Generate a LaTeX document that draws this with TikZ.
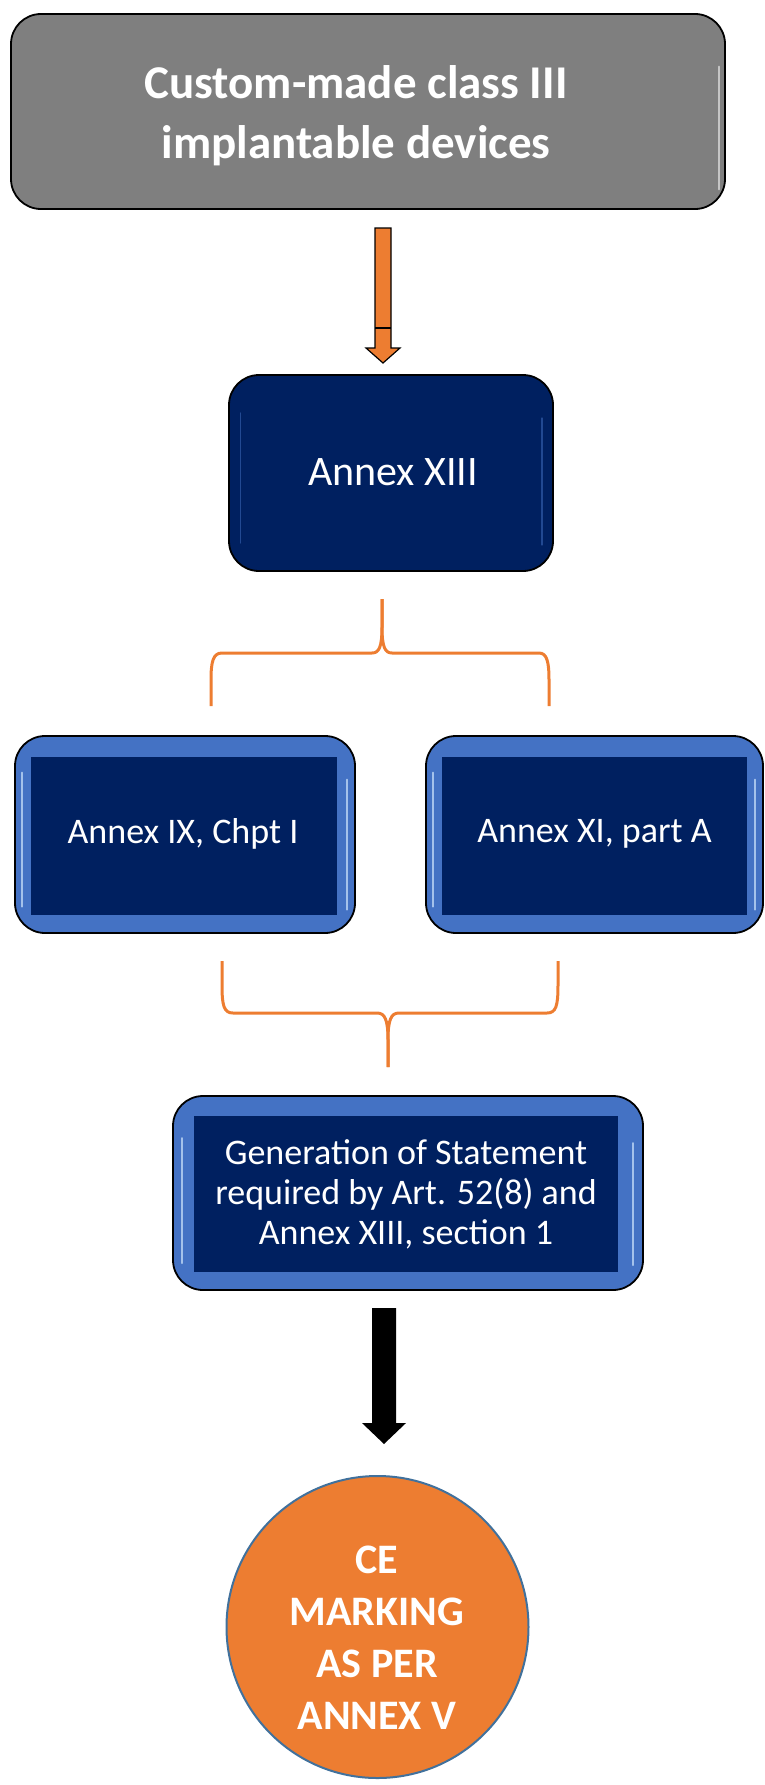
\documentclass[tikz,border=0pt]{standalone}
\usepackage{fontspec}
\setmainfont{Carlito}
\usetikzlibrary{calc}
\definecolor{navy}{RGB}{0,32,96}
\definecolor{boxgray}{RGB}{127,127,127}
\definecolor{bandblue}{RGB}{68,114,196}
\definecolor{accent}{RGB}{237,125,49}
\definecolor{rim}{RGB}{65,113,156}
\definecolor{gleam}{RGB}{190,215,245}
\begin{document}
\begin{tikzpicture}[x=1pt,y=-1pt,
  greybox/.style={draw=black,line width=1.8pt,fill=boxgray,rounded corners=30pt,inner sep=0pt},
  navybox/.style={draw=black,line width=1.8pt,fill=navy,rounded corners=30pt,inner sep=0pt},
  bandbox/.style={draw=black,line width=1.8pt,fill=bandblue,rounded corners=30pt,inner sep=0pt},
  panel/.style={fill=navy,draw=none,inner sep=0pt},
  label/.style={text=white,align=center,inner sep=0pt},
  brace/.style={draw=accent,line width=3pt},
  streak/.style={draw=gleam,line width=2pt,line cap=round,opacity=0.8},
  faint/.style={draw=white,line width=1.8pt,line cap=round,opacity=0.55}
]
\useasboundingbox (0,0) rectangle (764,1785);

% top box
\node[greybox,minimum width=714,minimum height=195] (top) at (368,111.5) {};
\node[label,font=\fontsize{47}{60}\selectfont\bfseries] (toptext) at (356,116)
  {Custom-made class III\\implantable devices};
\draw[faint] ($(top.east)+(-7,-45)$) -- ($(top.east)+(-7,78)$);

% Annex XIII
\node[navybox,minimum width=324,minimum height=196] (a13) at (391,473) {};
\node[label,font=\fontsize{42}{50}\selectfont] (a13text) at (393,472) {Annex XIII};
\draw[draw=bandblue,line width=1.2pt,line cap=round,opacity=0.5] ($(a13.west)+(12,-60)$) -- ($(a13.west)+(12,70)$);
\draw[draw=bandblue,line width=1.2pt,line cap=round,opacity=0.5] ($(a13.east)+(-12,-55)$) -- ($(a13.east)+(-12,72)$);

% orange block arrow
\coordinate (oatop) at (383,228);
\coordinate (oatip) at (383,363);
\draw[fill=accent,draw=black,line width=1.2pt]
  ($(oatop)+(-8,0)$) -- ($(oatop)+(8,0)$) -- ($(oatip)+(8,-15)$) -- ($(oatip)+(17,-15)$)
  -- (oatip) -- ($(oatip)+(-17,-15)$) -- ($(oatip)+(-8,-15)$) -- cycle;
\draw[black,line width=1.2pt] ($(oatip)+(-8,-35)$) -- ($(oatip)+(8,-35)$);

% upper brace
\coordinate (ub-c) at (382,599);
\coordinate (ub-l) at (211,706);
\coordinate (ub-r) at (549,706);
\draw[brace] (ub-c) -- ($(ub-c)+(0,28)$) .. controls ($(ub-c)+(0,48)$) and ($(ub-c)+(-3,54)$) .. ($(ub-c)+(-10,54)$)
  -- (222,653) .. controls (213,653) and (211,662) .. (211,680) -- (ub-l);
\draw[brace] (ub-c) -- ($(ub-c)+(0,28)$) .. controls ($(ub-c)+(0,48)$) and ($(ub-c)+(3,54)$) .. ($(ub-c)+(10,54)$)
  -- (539,653) .. controls (547,653) and (549,662) .. (549,680) -- (ub-r);

% Annex IX and Annex XI
\node[bandbox,minimum width=340,minimum height=197] (ix) at (185,834.5) {};
\node[panel,minimum width=306,minimum height=158] (ixin) at (184,836) {};
\node[label,font=\fontsize{36}{44}\selectfont] (ixtext) at (183,834) {Annex IX, Chpt I};
\draw[streak] ($(ix.west)+(8,-62)$) -- ($(ix.west)+(8,72)$);
\draw[streak] ($(ix.east)+(-9,-55)$) -- ($(ix.east)+(-9,75)$);

\node[bandbox,minimum width=337,minimum height=197] (xi) at (594.5,834.5) {};
\node[panel,minimum width=305,minimum height=158] (xiin) at (594.5,836) {};
\node[label,font=\fontsize{36}{44}\selectfont] (xitext) at (594.5,834) {Annex XI, part A};
\draw[streak] ($(xi.west)+(8,-62)$) -- ($(xi.west)+(8,72)$);
\draw[streak] ($(xi.east)+(-9,-55)$) -- ($(xi.east)+(-9,75)$);

% lower brace
\coordinate (lb-l) at (222,961);
\coordinate (lb-r) at (558,961);
\coordinate (lb-c) at (388,1067);
\draw[brace] (lb-l) -- (222,985) .. controls (222,1006) and (224,1013) .. (233,1013)
  -- (377,1013) .. controls (385,1013) and (388,1020) .. (388,1040) -- (lb-c);
\draw[brace] (lb-r) -- (558,985) .. controls (558,1006) and (556,1013) .. (547,1013)
  -- (399,1013) .. controls (391,1013) and (388,1020) .. (388,1040) -- (lb-c);

% statement box
\node[bandbox,minimum width=470,minimum height=194] (gen) at (408,1193) {};
\node[panel,minimum width=424,minimum height=156] (genin) at (406,1194) {};
\node[label,font=\fontsize{36}{40}\selectfont] (gentext) at (406,1194)
  {Generation of Statement\\required by Art. 52(8) and\\Annex XIII, section 1};
\draw[streak] ($(gen.west)+(10,-55)$) -- ($(gen.west)+(10,70)$);
\draw[streak] ($(gen.east)+(-11,-50)$) -- ($(gen.east)+(-11,72)$);

% black block arrow
\coordinate (batop) at (384,1308);
\coordinate (batip) at (384,1444);
\fill[black] ($(batop)+(-12,0)$) -- ($(batop)+(12,0)$) -- ($(batip)+(12,-21)$) -- ($(batip)+(22,-21)$)
  -- (batip) -- ($(batip)+(-22,-21)$) -- ($(batip)+(-12,-21)$) -- cycle;

% CE marking
\node[circle,draw=rim,line width=2pt,fill=accent,minimum size=302,inner sep=0pt] (ce) at (377.5,1627) {};
\node[label,font=\fontsize{42}{52}\selectfont\bfseries] (cetext) at (377,1638)
  {CE\\MARKING\\AS PER\\ANNEX V};
\end{tikzpicture}
\end{document}
